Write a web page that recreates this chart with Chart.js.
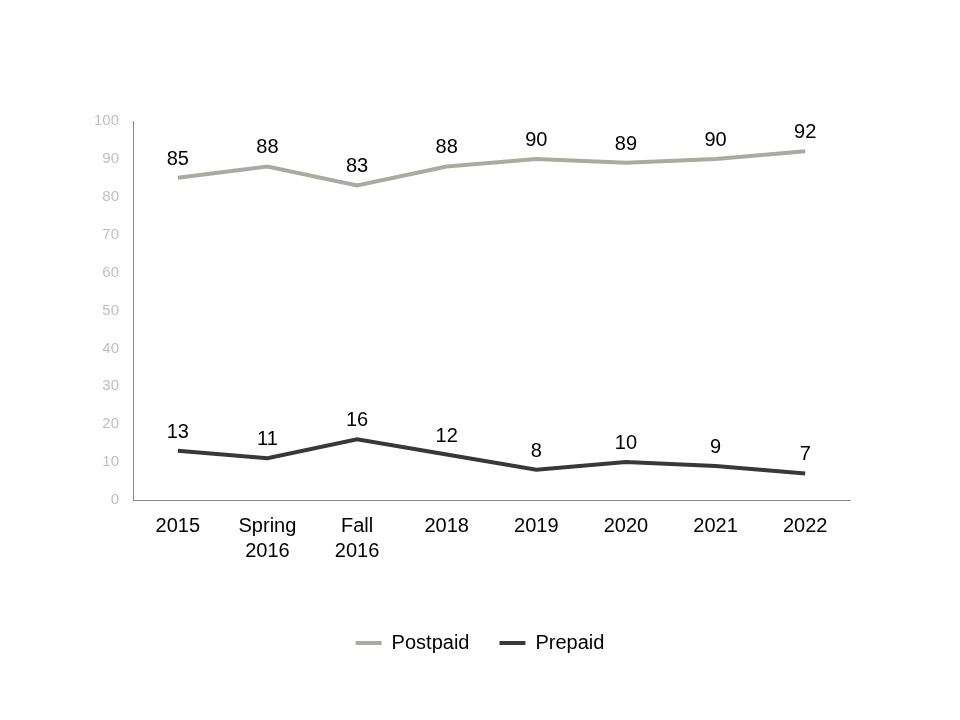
<!DOCTYPE html>
<html>
<head>
<meta charset="utf-8">
<script src="https://cdn.jsdelivr.net/npm/chart.js@4"></script>
<style>
  body { margin: 0; background: #fff; }
  #wrap { width: 960px; height: 720px; }
</style>
</head>
<body>
<div id="wrap"><canvas id="myChart" width="960" height="720"></canvas></div>
<script>
const etiquetas = ['2015', ['Spring', '2016'], ['Fall', '2016'], '2018', '2019', '2020', '2021', '2022'];
const postpaid = [85, 88, 83, 88, 90, 89, 90, 92];
const prepaid = [13, 11, 16, 12, 8, 10, 9, 7];
const yTicks = [0, 10, 20, 30, 40, 50, 60, 70, 80, 90, 100];

const colorPost = '#a9aba0';
const colorPre = '#383838';
const fuente = 'Arial, "Liberation Sans", sans-serif';

// etiquetas de valores encima de cada punto
const etiquetasValores = {
  id: 'etiquetasValores',
  afterDatasetsDraw(chart) {
    const ctx = chart.ctx;
    ctx.save();
    ctx.font = '20px ' + fuente;
    ctx.fillStyle = '#000';
    ctx.textAlign = 'center';
    ctx.textBaseline = 'alphabetic';
    chart.data.datasets.forEach((ds, i) => {
      const meta = chart.getDatasetMeta(i);
      meta.data.forEach((pt, j) => {
        ctx.fillText(ds.data[j], pt.x, pt.y - 13);
      });
    });
    ctx.restore();
  }
};

const config = {
  type: 'line',
  data: {
    labels: etiquetas,
    datasets: [
      { label: 'Postpaid', data: postpaid, borderColor: colorPost, backgroundColor: colorPost, borderWidth: 4, pointRadius: 0, tension: 0 },
      { label: 'Prepaid', data: prepaid, borderColor: colorPre, backgroundColor: colorPre, borderWidth: 4, pointRadius: 0, tension: 0 }
    ]
  },
  options: {
    responsive: false,
    animation: false,
    layout: { padding: { top: 121, right: 0, bottom: 57, left: 0 } },
    plugins: {
      tooltip: { enabled: false },
      legend: {
        position: 'bottom',
        labels: {
          font: { size: 20, family: fuente },
          color: '#000',
          boxWidth: 26,
          boxHeight: 4,
          padding: 30,
          generateLabels(chart) {
            return chart.data.datasets.map((ds, i) => ({
              text: ds.label,
              fillStyle: ds.borderColor,
              strokeStyle: ds.borderColor,
              lineWidth: 0,
              datasetIndex: i
            }));
          }
        }
      }
    },
    scales: {
      x: {
        offset: true,
        grid: { display: false, drawTicks: false, offset: true },
        border: { display: true, color: '#898989', width: 1 },
        ticks: { color: '#000', font: { size: 20, family: fuente, lineHeight: 1.25 }, padding: 14, maxRotation: 0, autoSkip: false },
        afterFit(scale) { scale.height = 103; }
      },
      y: {
        min: 0,
        max: 100,
        grid: { display: false, drawTicks: false },
        border: { display: true, color: '#898989', width: 1 },
        afterBuildTicks(scale) { scale.ticks = yTicks.map(v => ({ value: v })); },
        ticks: { color: '#bfbfbf', font: { size: 15, family: fuente }, padding: 14 },
        afterFit(scale) { scale.width = 133; }
      },
      // eje vacio a la derecha solo para dejar el margen
      yDer: {
        position: 'right',
        display: true,
        grid: { display: false, drawTicks: false },
        border: { display: false },
        ticks: { display: false },
        afterFit(scale) { scale.width = 110; }
      }
    }
  },
  plugins: [etiquetasValores]
};

new Chart(document.getElementById('myChart'), config);
</script>
</body>
</html>
